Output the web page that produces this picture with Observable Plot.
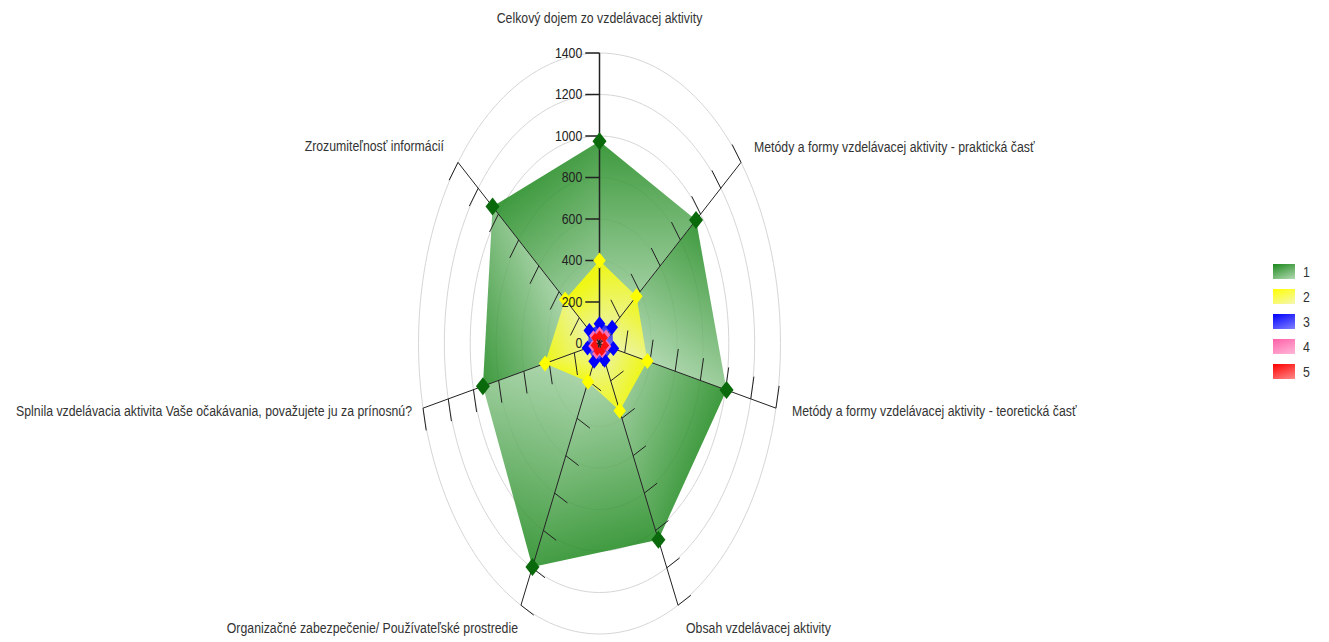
<!DOCTYPE html>
<html><head><meta charset="utf-8">
<script src="https://cdn.jsdelivr.net/npm/d3@7"></script>
<script src="https://cdn.jsdelivr.net/npm/@observablehq/plot@0.6"></script>
<style>
html,body{margin:0;padding:0;background:#fff;overflow:hidden}
#wrap{position:relative;width:1329px;height:642px}
#wrap svg{position:absolute;left:0;top:0}
#legend{position:absolute;left:1273px;top:259px;font-family:"Liberation Sans",Arial,sans-serif;font-size:15px;color:#333}
.item{display:flex;align-items:center;height:25px}
.sw{width:22px;height:15px}
.lab{margin-left:8px;transform:scaleX(0.82);transform-origin:left center;line-height:15px}
</style></head><body><div id="wrap"><div id="legend"></div></div>
<script>
// ---- data ----
const categories = [
  "Celkový dojem zo vzdelávacej aktivity",
  "Metódy a formy vzdelávacej aktivity - praktická časť",
  "Metódy a formy vzdelávacej aktivity - teoretická časť",
  "Obsah vzdelávacej aktivity",
  "Organizačné zabezpečenie/ Používateľské prostredie",
  "Splnila vzdelávacia aktivita Vaše očakávania, považujete ju za prínosnú?",
  "Zrozumiteľnosť informácií"
];
const seriesNames = ["1", "2", "3", "4", "5"];
const series1 = [975, 955, 1008, 1050, 1195, 925, 1058];
const series2 = [400, 365, 380, 360, 205, 432, 340];
const series3 = [95, 125, 110, 90, 95, 95, 100];
const series4 = [55, 65, 60, 50, 55, 55, 60];
const series5 = [40, 45, 45, 40, 40, 40, 45];
const tickValues = [0, 200, 400, 600, 800, 1000, 1200, 1400];
const tickLabels = ["0", "200", "400", "600", "800", "1000", "1200", "1400"];

// ---- layout / style ----
const allSeries = [series1, series2, series3, series4, series5];
const styles = [
  {dark: "#1c881c", light: "#b3dab3", mark: "#0a690a", r: 9},
  {dark: "#ffff00", light: "#f4f7b4", mark: "#ffff00", r: 8},
  {dark: "#0000ff", light: "#8080ff", mark: "#0000ff", r: 7.5},
  {dark: "#ff60a8", light: "#ffb8d8", mark: "#ff70b0", r: 5.5},
  {dark: "#ff0000", light: "#ff8a8a", mark: "#ff1010", r: 5}
];
const N = categories.length;
const MAXV = 1400;
const TICKLEN = 110;
const ang = i => i * 2 * Math.PI / N;
const P = (v, i) => [v * Math.sin(ang(i)), v * Math.cos(ang(i))];
const cx = 599, cy = 343, rx = 181, ry = 290.5;
// label offsets (px) per axis
const labelLayout = [
  {dx: 0, dy: -35, anchor: "middle"},
  {dx: 13, dy: -15, anchor: "start"},
  {dx: 16, dy: 3, anchor: "start"},
  {dx: 8, dy: 23, anchor: "start"},
  {dx: -3, dy: 23, anchor: "end"},
  {dx: -11, dy: 3, anchor: "end"},
  {dx: -14, dy: -16, anchor: "end"}
];

const diamondSym = {
  draw(ctx, size) {
    const r = Math.sqrt(size / Math.PI), w = r * 0.78;
    ctx.moveTo(0, -r); ctx.lineTo(w, 0); ctx.lineTo(0, r); ctx.lineTo(-w, 0); ctx.closePath();
  }
};

const marks = [];
// grid ellipses
const gridPts = [];
for (const r of tickValues.filter(v => v > 0)) {
  for (let a = 0; a <= 360; a += 2) {
    const t = a * Math.PI / 180;
    gridPts.push({r, x: r * Math.sin(t), y: r * Math.cos(t)});
  }
}
marks.push(Plot.line(gridPts, {x: "x", y: "y", z: "r", stroke: "#d6d6d6", strokeWidth: 1}));

// series sectors
allSeries.forEach((vals, s) => {
  for (let i = 0; i < N; i++) {
    const j = (i + 1) % N;
    const tri = [[0, 0], P(vals[i], i), P(vals[j], j)];
    marks.push(Plot.line(tri, {x: d => d[0], y: d => d[1], fill: `url(#g${s}_${i})`, stroke: "none", fillOpacity: 0.85}));
  }
});

// axes
const axesData = categories.map((c, i) => ({i, p: P(MAXV, i)}));
marks.push(Plot.link(axesData, {x1: () => 0, y1: () => 0, x2: d => d.p[0], y2: d => d.p[1], stroke: "#222", strokeWidth: d => d.i === 0 ? 1.5 : 1}));
// ticks
const tickData = [];
categories.forEach((c, i) => {
  const t = ang(i);
  for (const v of tickValues) {
    const [x, y] = P(v, i);
    tickData.push({i, x1: x, y1: y, x2: x - TICKLEN * Math.cos(t), y2: y + TICKLEN * Math.sin(t)});
  }
});
marks.push(Plot.link(tickData, {x1: "x1", y1: "y1", x2: "x2", y2: "y2", stroke: "#222", strokeWidth: d => d.i === 0 ? 1.5 : 1}));

// diamonds
allSeries.forEach((vals, s) => {
  const pts = vals.map((v, i) => ({x: P(v, i)[0], y: P(v, i)[1]}));
  marks.push(Plot.dot(pts, {x: "x", y: "y", symbol: diamondSym, r: styles[s].r, fill: styles[s].mark, stroke: "none"}));
});

// tick labels on the first axis
marks.push(Plot.text(tickValues.map((v, k) => ({v, label: tickLabels[k]})), {
  x: () => -TICKLEN, y: "v", text: "label", textAnchor: "end", dx: -3, fill: "#222", fontSize: 15
}));

// category labels
categories.forEach((c, i) => {
  const L = labelLayout[i];
  marks.push(Plot.text([{c, p: P(MAXV, i)}], {
    x: d => d.p[0], y: d => d.p[1], text: "c", textAnchor: L.anchor, dx: L.dx, dy: L.dy, fill: "#333", fontSize: 15
  }));
});

const plot = Plot.plot({
  width: 1329, height: 642,
  margin: 0,
  x: {type: "linear", domain: [-MAXV, MAXV], range: [cx - rx, cx + rx], axis: null},
  y: {type: "linear", domain: [-MAXV, MAXV], range: [cy + ry, cy - ry], axis: null},
  style: {fontFamily: "'Liberation Sans', Arial, sans-serif", fontSize: "15px", background: "white", overflow: "visible"},
  marks
});

// gradients
const X = plot.scale("x"), Y = plot.scale("y");
const ns = "http://www.w3.org/2000/svg";
const defs = document.createElementNS(ns, "defs");
allSeries.forEach((vals, s) => {
  for (let i = 0; i < N; i++) {
    const [ax, ay] = P(vals[i], i);
    const g = document.createElementNS(ns, "linearGradient");
    g.setAttribute("id", `g${s}_${i}`);
    g.setAttribute("gradientUnits", "userSpaceOnUse");
    g.setAttribute("x1", X.apply(ax)); g.setAttribute("y1", Y.apply(ay));
    g.setAttribute("x2", X.apply(0)); g.setAttribute("y2", Y.apply(0));
    [[0, styles[s].dark], [1, styles[s].light]].forEach(([o, col]) => {
      const st = document.createElementNS(ns, "stop");
      st.setAttribute("offset", o); st.setAttribute("stop-color", col);
      g.appendChild(st);
    });
    defs.appendChild(g);
  }
});
plot.insertBefore(defs, plot.firstChild);

// condensed text (horizontal squeeze about each anchor point)
for (const t of plot.querySelectorAll("text")) {
  const tr = t.getAttribute("transform") || "";
  t.setAttribute("transform", tr + " scale(0.82,1)");
}

const wrap = document.getElementById("wrap");
wrap.insertBefore(plot, wrap.firstChild);

// legend
const legend = document.getElementById("legend");
seriesNames.forEach((n, s) => {
  const it = document.createElement("div"); it.className = "item";
  const sw = document.createElement("div"); sw.className = "sw";
  sw.style.background = `linear-gradient(160deg, ${styles[s].dark}, ${styles[s].light})`;
  const lab = document.createElement("div"); lab.className = "lab"; lab.textContent = n;
  it.appendChild(sw); it.appendChild(lab); legend.appendChild(it);
});
</script>
</body></html>
